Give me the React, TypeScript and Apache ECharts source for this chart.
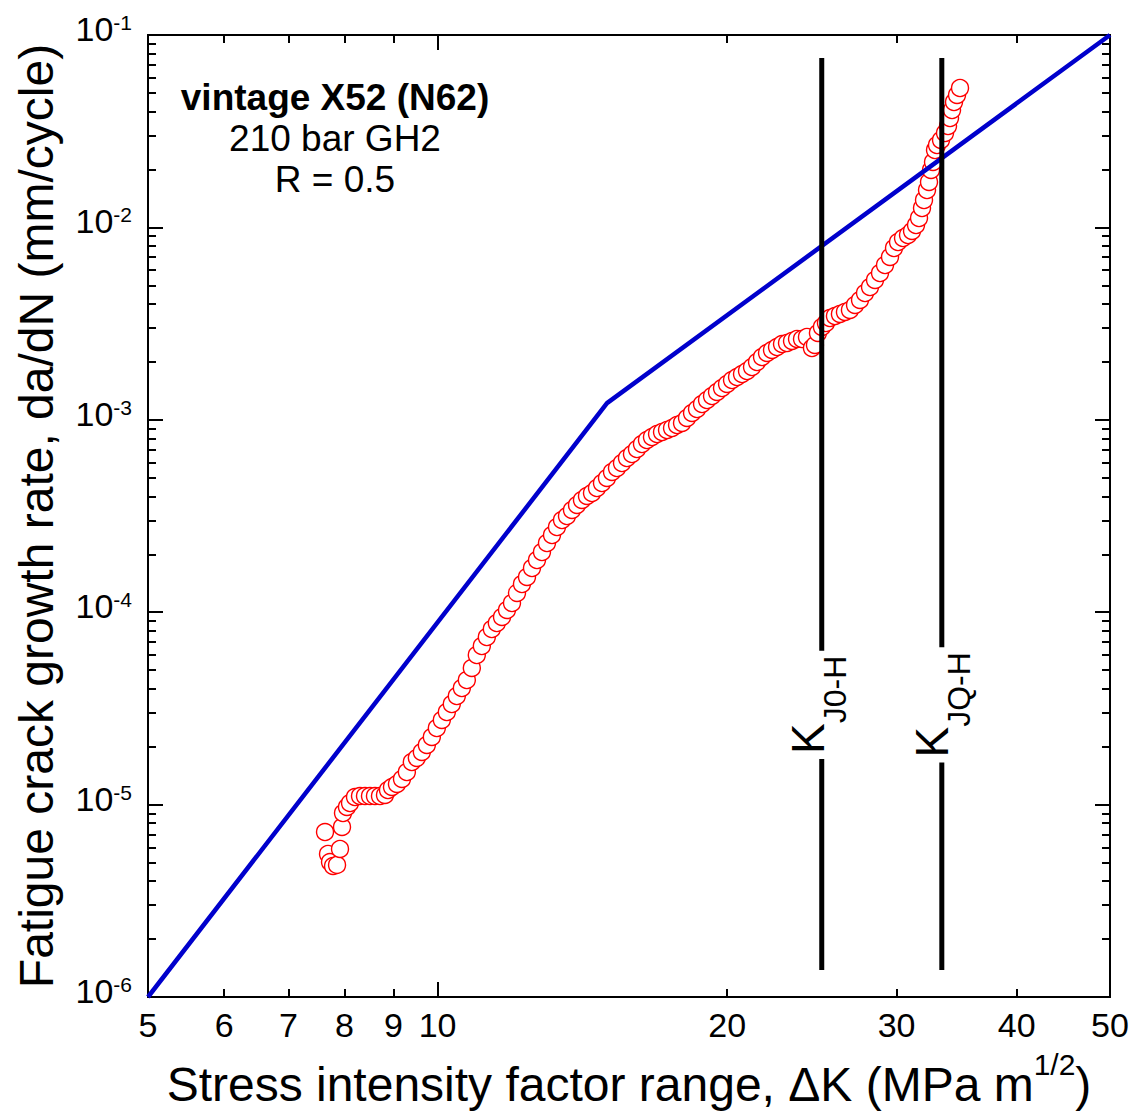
import React, { useEffect, useRef } from 'react';
import * as echarts from 'echarts';

// ---- axis ticks / labels ----
const xTickLabels = [5, 6, 7, 8, 9, 10, 20, 30, 40, 50];
const xMajorTicks = [10];
const xMinorTicks = [6, 7, 8, 9, 20, 30, 40];

// ---- blue reference line (two power-law segments) ----
const blueDK = [5, 15, 50];
const blueRate = [1e-6, 1.22e-3, 1e-1];

// ---- measured fatigue crack growth data (red circles) ----
const redDK = [
  7.638, 7.693, 7.730, 7.786, 7.861, 7.917, 7.955, 7.974, 8.050, 8.109,
  8.206, 8.305, 8.405, 8.506, 8.608, 8.712, 8.817, 8.880, 8.966, 9.073,
  9.183, 9.291, 9.402, 9.515, 9.630, 9.746, 9.863, 9.982, 10.102, 10.224,
  10.346, 10.471, 10.598, 10.725, 10.854, 10.984, 11.117, 11.251, 11.386, 11.523,
  11.667, 11.807, 11.949, 12.093, 12.238, 12.386, 12.535, 12.686, 12.838, 12.993,
  13.150, 13.308, 13.468, 13.630, 13.794, 13.961, 14.128, 14.298, 14.471, 14.645,
  14.821, 15.000, 15.181, 15.363, 15.548, 15.735, 15.924, 16.116, 16.310, 16.506,
  16.705, 16.909, 17.112, 17.318, 17.527, 17.738, 17.951, 18.167, 18.386, 18.607,
  18.831, 19.058, 19.287, 19.519, 19.754, 19.993, 20.233, 20.477, 20.723, 20.972,
  21.225, 21.481, 21.739, 22.001, 22.265, 22.534, 22.805, 23.079, 23.358, 23.639,
  23.923, 24.208, 24.499, 24.675, 24.853, 25.092, 25.334, 25.577, 25.885, 26.196,
  26.512, 26.831, 27.159, 27.486, 27.817, 28.152, 28.491, 28.834, 29.181, 29.532,
  29.816, 30.104, 30.466, 30.832, 31.130, 31.429, 31.655, 31.883, 32.036, 32.267,
  32.422, 32.578, 32.734, 32.891, 33.049, 33.367, 33.688, 33.931, 34.094, 34.258,
  34.421, 34.670, 34.919,
];
const redRate = [
  7.20e-6, 5.54e-6, 5.03e-6, 4.80e-6, 4.86e-6, 5.88e-6, 7.65e-6, 9.04e-6, 9.72e-6, 1.019e-5,
  1.095e-5, 1.108e-5, 1.108e-5, 1.108e-5, 1.108e-5, 1.108e-5, 1.122e-5, 1.191e-5, 1.235e-5, 1.280e-5,
  1.359e-5, 1.477e-5, 1.665e-5, 1.747e-5, 1.877e-5, 2.041e-5, 2.246e-5, 2.501e-5, 2.753e-5, 3.029e-5,
  3.333e-5, 3.667e-5, 4.036e-5, 4.441e-5, 5.129e-5, 5.992e-5, 6.673e-5, 7.431e-5, 8.178e-5, 8.788e-5,
  9.443e-5, 1.027e-4, 1.116e-4, 1.259e-4, 1.401e-4, 1.524e-4, 1.697e-4, 1.867e-4, 2.055e-4, 2.289e-4,
  2.519e-4, 2.772e-4, 3.014e-4, 3.162e-4, 3.398e-4, 3.608e-4, 3.831e-4, 4.018e-4, 4.164e-4, 4.420e-4,
  4.693e-4, 4.984e-4, 5.355e-4, 5.617e-4, 5.963e-4, 6.330e-4, 6.641e-4, 7.050e-4, 7.484e-4, 7.852e-4,
  8.139e-4, 8.437e-4, 8.641e-4, 8.851e-4, 9.065e-4, 9.397e-4, 9.625e-4, 1.022e-3, 1.085e-3, 1.138e-3,
  1.208e-3, 1.267e-3, 1.329e-3, 1.395e-3, 1.463e-3, 1.535e-3, 1.610e-3, 1.669e-3, 1.730e-3, 1.793e-3,
  1.881e-3, 1.997e-3, 2.120e-3, 2.225e-3, 2.306e-3, 2.390e-3, 2.477e-3, 2.507e-3, 2.568e-3, 2.630e-3,
  2.630e-3, 2.694e-3, 2.361e-3, 2.448e-3, 2.826e-3, 3.035e-3, 3.185e-3, 3.381e-3, 3.463e-3, 3.548e-3,
  3.634e-3, 3.722e-3, 3.952e-3, 4.195e-3, 4.560e-3, 4.899e-3, 5.329e-3, 5.794e-3, 6.376e-3, 7.018e-3,
  7.815e-3, 8.397e-3, 8.809e-3, 9.130e-3, 9.579e-3, 1.029e-2, 1.119e-2, 1.261e-2, 1.388e-2, 1.564e-2,
  1.722e-2, 1.988e-2, 2.188e-2, 2.525e-2, 2.681e-2, 2.847e-2, 3.094e-2, 3.365e-2, 3.703e-2, 4.075e-2,
  4.485e-2, 4.878e-2, 5.303e-2,
];

// ---- K_J0-H and K_JQ-H marker lines ----
const markerNames = ['J0-H', 'JQ-H'];
const markerDK = [25.08, 33.43];
const markerRateRange = [1.38e-6, 0.076];
const markerLabelDK = [24.85, 33.45];
const markerLabelRate = 3.3e-5;

const annotationLines = ['vintage X52 (N62)', '210 bar GH2', 'R = 0.5'];

const FONT = '"Liberation Sans", Arial, Helvetica, sans-serif';

export default function App() {
  const ref = useRef<HTMLDivElement>(null);

  useEffect(() => {
    document.body.style.margin = '0';
    const chart = echarts.init(ref.current as HTMLDivElement, null, { renderer: 'svg' });

    const lineStyle = { color: '#000', width: 2 };
    const xBase: any = {
      type: 'log',
      logBase: 10,
      min: 5,
      max: 50,
      axisLine: { show: true, onZero: false, lineStyle },
      splitLine: { show: false },
      minorSplitLine: { show: false },
    };
    const yBase: any = {
      type: 'log',
      logBase: 10,
      min: 1e-6,
      max: 1e-1,
      axisLine: { show: true, onZero: false, lineStyle },
      splitLine: { show: false },
      minorSplitLine: { show: false },
      axisTick: { show: true, inside: true, length: 15, lineStyle },
      minorTick: { show: true, splitNumber: 9, length: 8, lineStyle },
    };

    const xMajor = (position: string, labels: boolean, extra: any = {}) => ({
      ...xBase,
      position,
      axisTick: { show: true, inside: true, length: 15, customValues: xMajorTicks, lineStyle },
      axisLabel: labels
        ? {
            show: true,
            customValues: xTickLabels,
            formatter: (v: number) => String(Math.round(v)),
            fontSize: 34,
            fontFamily: FONT,
            color: '#000',
            margin: 11,
          }
        : { show: false },
      ...extra,
    });
    const xMinor = (position: string) => ({
      ...xBase,
      position,
      axisTick: { show: true, inside: true, length: 8, customValues: xMinorTicks, lineStyle },
      axisLabel: { show: false },
    });

    const option: any = {
      animation: false,
      backgroundColor: '#fff',
      grid: { left: 148, top: 35, width: 962, height: 962, containLabel: false, outerBoundsMode: 'none' },
      xAxis: [
        xMajor('bottom', true, {
          name: '{a|Stress intensity factor range, ΔK (MPa m}{s|1/2}{a|)}',
          nameLocation: 'middle',
          nameGap: 45,
          nameTextStyle: {
            color: '#000',
            fontFamily: FONT,
            rich: {
              a: { fontSize: 48, lineHeight: 48, padding: [14, 0, 0, 0], fontFamily: FONT, color: '#000' },
              s: { fontSize: 30, lineHeight: 30, padding: [3, 0, 29, 0], fontFamily: FONT, color: '#000' },
            },
          },
        }),
        xMinor('bottom'),
        xMajor('top', false),
        xMinor('top'),
      ],
      yAxis: [
        {
          ...yBase,
          position: 'left',
          name: 'Fatigue crack growth rate, da/dN (mm/cycle)',
          nameLocation: 'middle',
          nameGap: 88,
          nameTextStyle: { color: '#000', fontFamily: FONT, fontSize: 48 },
          axisLabel: {
            show: true,
            margin: 16,
            formatter: (v: number) => `{b|10}{s|${Math.round(Math.log10(v))}}`,
            rich: {
              b: { fontSize: 34, lineHeight: 34, padding: [0, 0, 12, 0], fontFamily: FONT, color: '#000' },
              s: { fontSize: 21, lineHeight: 21, padding: [0, 0, 25, 0], fontFamily: FONT, color: '#000' },
            },
          },
        },
        { ...yBase, position: 'right', axisLabel: { show: false } },
      ],
      graphic: annotationLines.map((t, i) => ({
        type: 'text',
        x: 335,
        y: 97 + i * 41,
        z: 10,
        style: {
          text: t,
          fontSize: 37,
          fontWeight: i === 0 ? 'bold' : 'normal',
          fontFamily: FONT,
          fill: '#000',
          align: 'center',
          verticalAlign: 'middle',
          textAlign: 'center',
          textVerticalAlign: 'middle',
        },
      })),
      series: [
        {
          type: 'scatter',
          name: 'data',
          data: redDK.map((k, i) => [k, redRate[i]]),
          symbol: 'circle',
          symbolSize: 17,
          itemStyle: { color: '#fff', borderColor: '#ff0000', borderWidth: 1.4, opacity: 1 },
          z: 2,
          silent: true,
        },
        {
          type: 'line',
          name: 'fit',
          data: blueDK.map((k, i) => [k, blueRate[i]]),
          symbol: 'none',
          lineStyle: { color: '#0000cc', width: 4.5 },
          z: 3,
          silent: true,
        },
        ...markerDK.map((k) => ({
          type: 'line',
          data: markerRateRange.map((r) => [k, r]),
          symbol: 'none',
          lineStyle: { color: '#000', width: 5 },
          z: 4,
          silent: true,
        })),
        {
          type: 'scatter',
          data: markerLabelDK.map((k, i) => ({
            value: [k, markerLabelRate],
            label: { formatter: `{k|K}{s|${markerNames[i]}}` },
          })),
          symbolSize: 1,
          itemStyle: { color: 'rgba(0,0,0,0)', opacity: 1 },
          z: 5,
          silent: true,
          label: {
            show: true,
            position: 'inside',
            rotate: 90,
            color: '#000',
            opacity: 1,
            textBorderWidth: 0,
            textBorderColor: 'transparent',
            backgroundColor: '#fff',
            padding: [2, 5],
            rich: {
              k: { fontSize: 46, lineHeight: 46, padding: [0, 0, 20, 0], fontFamily: FONT, color: '#000', textBorderWidth: 0 },
              s: { fontSize: 32, lineHeight: 32, padding: [34, 0, 0, 0], fontFamily: FONT, color: '#000', textBorderWidth: 0 },
            },
          },
        },
      ],
    };

    chart.setOption(option);
    return () => chart.dispose();
  }, []);

  return <div ref={ref} style={{ width: 1135, height: 1115 }} />;
}
